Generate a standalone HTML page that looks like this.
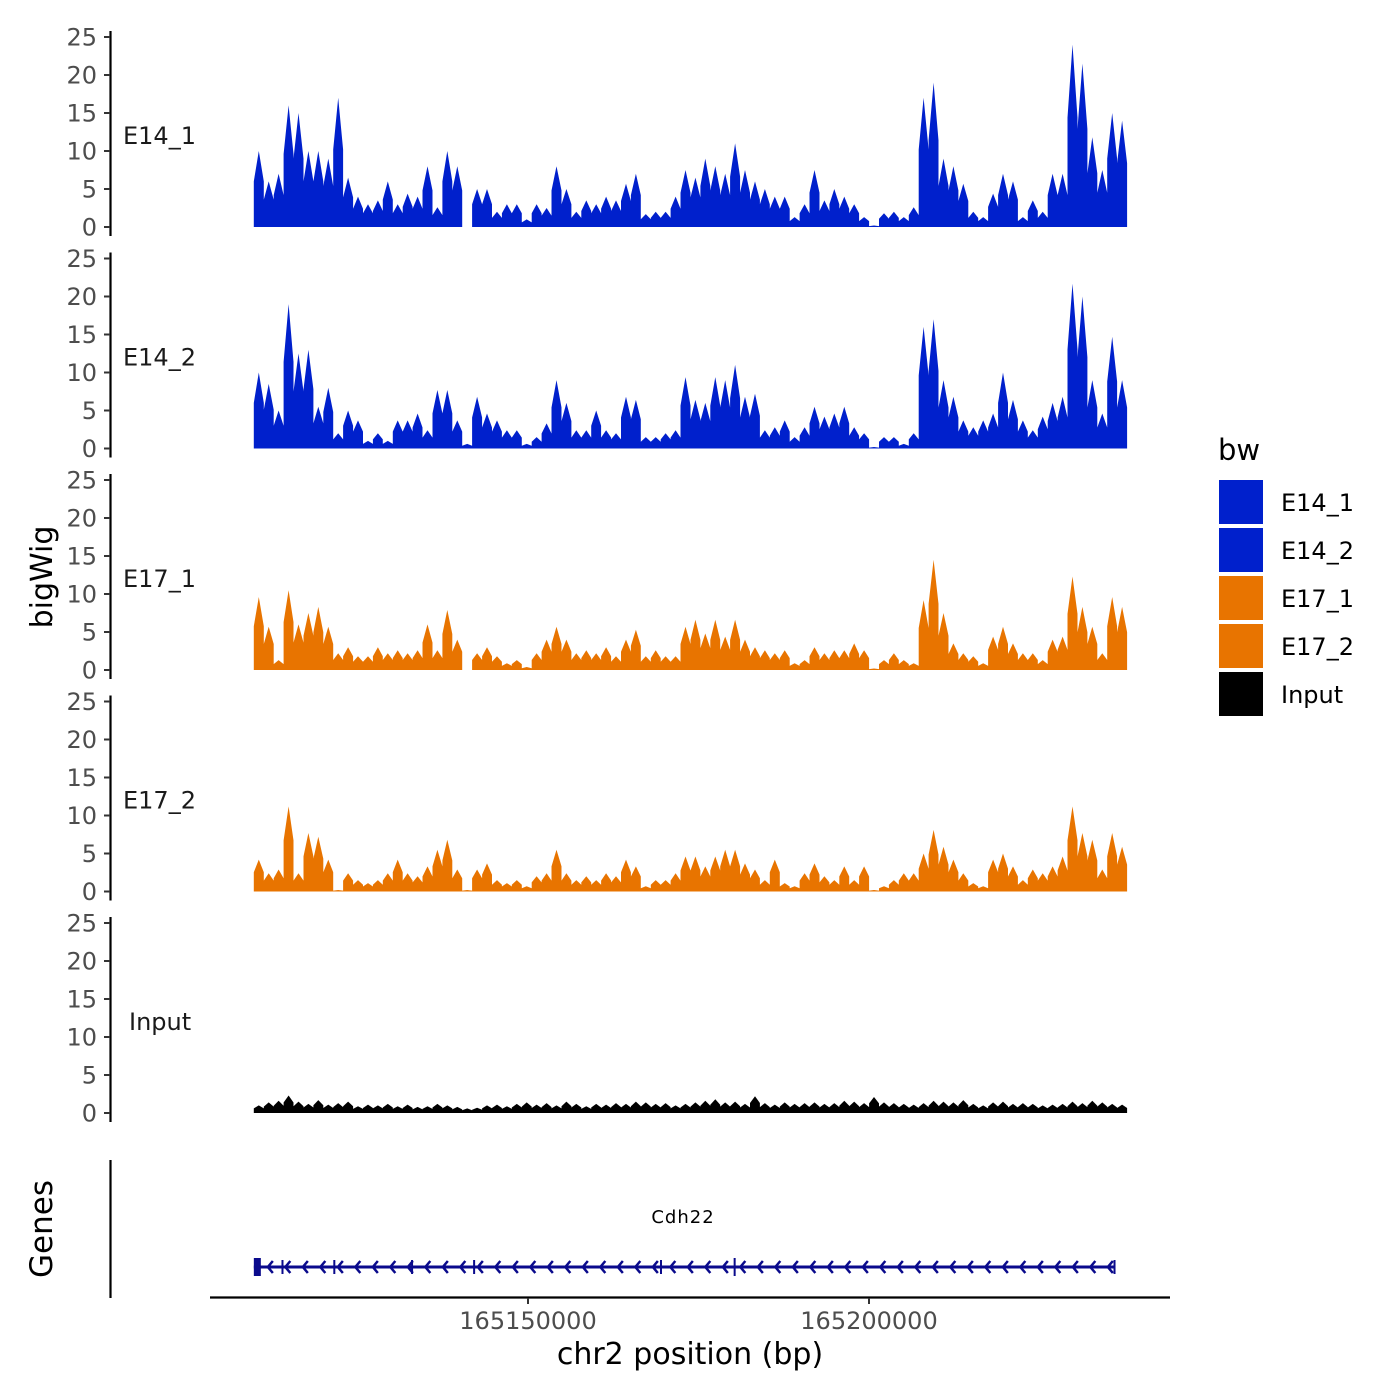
<!DOCTYPE html>
<html><head><meta charset="utf-8"><style>
html,body{margin:0;padding:0;background:#fff;}
svg{display:block;font-family:"DejaVu Sans","Liberation Sans",sans-serif;}
</style></head><body>
<svg id="chart" width="1400" height="1400" viewBox="0 0 1400 1400">
<rect x="0" y="0" width="1400" height="1400" fill="#fff"/>
<g id="tracks"></g>
<g id="genes"></g>
<g id="xaxis"></g>
<g id="legend"></g>
<text x="52" y="577" font-size="30" text-anchor="middle" transform="rotate(-90 52 577)" fill="#000">bigWig</text>
<text x="52" y="1229" font-size="31" text-anchor="middle" transform="rotate(-90 52 1229)" fill="#000">Genes</text>
<text x="690" y="1364" font-size="30" text-anchor="middle" fill="#000">chr2 position (bp)</text>
</svg>
<script>
const trackNames = ["E14_1","E14_2","E17_1","E17_2","Input"];
const trackColors = ["#0020CC","#0020CC","#E87400","#E87400","#000000"];
const binStart = 165109800;
const binSize = 1455;
const yTicks = [0,5,10,15,20,25];
const xTicks = [165150000,165200000];
const xTickLabels = ["165150000","165200000"];
const e14_1 = [10,6,7,16,15,10,10,9,17,6.5,4,3,3.5,6,3,4.4,4,8,2.6,10,8,0,5,5,2,3,3,1,3,2.5,8,5,2,3.5,3,4,3.5,5.7,7,1.7,2,2,4,7.5,6.5,
9,8,7,11,7.5,6,5,4,4,1.3,3,7.5,3.5,5,4,3,1.3,0.2,1.8,2,1.3,2.6,17,19,9,8,5.7,2,1.3,4.4,7,6,1.3,3.5,2,7,7,24,21.5,11.8,7.5,15,14];
const e14_2 = [10,8.5,5,19,12.5,13,5.5,8,2,5,3.7,1,2,1,3.7,3.7,4.6,2.4,7.7,7.7,3.7,0.6,6.8,4.6,3.7,2.4,2.4,0.6,1.5,3.3,9,6,2.4,2.4,5,2.4,2,6.8,6.4,1.5,1.5,2,2.4,9.4,6.4,
6,9.4,9,11,6.8,7.2,2.4,2.8,3.7,1.5,2.8,5.5,4.2,4.6,5.5,2.8,2,0.2,1.5,1.5,0.6,2,16,17,9,6.8,3.7,2.8,3.7,4.6,10,6.4,3.7,2.4,4.2,6,6.8,21.7,20,9,4.6,14.7,9];
const e17_1 = [9.6,5.7,1.3,10.5,6,7.5,8.3,5.7,2.2,3,1.8,1.8,3,2.2,2.6,2.2,2.6,6,2.6,7.9,4,0,2.2,3,1.8,0.9,1.3,0.4,2.2,4,5.7,4,2.2,2.6,2.2,3,1.8,4,5.3,1.8,2.6,1.8,1.8,5.7,6.6,
4.8,6.6,4.4,6.6,4,3,2.6,2.2,2.6,0.9,1.3,3,2.2,2.6,2.6,3.5,2.6,0.2,1.3,2.2,1.3,0.9,9.2,14.5,7.5,3.5,2.2,1.8,0.9,4.4,5.7,3.5,2.2,2.2,1.3,4,4.4,12.3,8.3,5.7,2.2,9.6,8.3];
const e17_2 = [4.2,2.4,2.9,11.2,2.4,7.7,7.2,4.2,0.2,2.4,1.5,1.1,1.5,2.4,4.2,2.4,2,3.3,5.5,6.8,2.9,0.2,2.9,3.7,1.5,1.1,1.5,0.7,2,2.4,5.5,2.4,1.5,2,1.5,2.4,2,4.2,3.3,0.7,1.5,1.5,2.4,4.6,4.6,
3.3,4.6,5.5,5.5,3.7,2.9,1.5,4.2,1.1,0.7,2.4,3.7,2,1.5,3.3,1.5,3.3,0.2,0.7,1.5,2.4,2.4,5,8.1,5.9,4.2,2.4,1.1,0.7,4.2,5,3.3,1.5,2.9,2.4,3.3,4.6,11.2,7.7,6.8,2.9,7.7,5.9];
const input = [1,1.4,1.6,2.3,1.5,1.2,1.7,1.1,1.3,1.5,0.9,1.1,1,1.2,0.9,1.1,0.8,0.9,1.2,1,0.8,0.6,0.7,1,1.1,0.9,1.2,1.4,1.1,1.3,1,1.5,1.2,0.9,1.2,1.1,1.3,1.2,1.5,1.4,1.2,1.3,1,1.2,1.4,
1.6,1.8,1.4,1.5,1.2,2.2,1.3,1.1,1.4,1.2,1.3,1.4,1.2,1.3,1.6,1.5,1.3,2.1,1.4,1.3,1.2,1.1,1.3,1.6,1.5,1.4,1.7,1.2,1,1.4,1.5,1.2,1.3,1.2,1,1.1,1.2,1.5,1.3,1.6,1.4,1.2,1.1];
const trackData = [e14_1,e14_2,e17_1,e17_2,input];

const NS="http://www.w3.org/2000/svg";
function xScale(bp){ return 528 + (bp-165150000)*341/50000; }
const panelZero = [227,448.5,670,891.5,1113];
function yScale(panel,v){ return panelZero[panel] - v*7.6; }
function mk(tag,attrs,parent){ const e=document.createElementNS(NS,tag); for(const k in attrs) e.setAttribute(k,attrs[k]); parent.appendChild(e); return e; }

const tracksG=document.getElementById('tracks');
trackData.forEach((vals,p)=>{
  const g=mk('g',{},tracksG);
  
  
  const z=panelZero[p];
  const ax=mk('line',{x1:110.5,x2:110.5,y1:yScale(p,25)-6,y2:z+9,stroke:'#000','stroke-width':2.2},g);
  
  
  yTicks.forEach(t=>{
    const y=yScale(p,t);
    const tk=mk('line',{x1:104,x2:110,y1:y,y2:y,stroke:'#333','stroke-width':2},g);
    
    
    const tl=mk('text',{x:97,y:y+8.5,'font-size':24,'text-anchor':'end',fill:'#4d4d4d'},g);
    tl.textContent=String(t);
    
    
  });
  const lab=mk('text',{x:trackNames[p]==='Input'?129:123,y:yScale(p,12)+8,'font-size':24,fill:'#1a1a1a'},g);
  lab.textContent=trackNames[p];
  
  
  let d='M'+xScale(binStart).toFixed(1)+' '+z;
  vals.forEach((v,i)=>{
    const x0=xScale(binStart+i*binSize), x1=xScale(binStart+(i+1)*binSize), y=yScale(p,v);
    const xm=(x0+x1)/2;
    d+=' L'+x0.toFixed(1)+' '+yScale(p,v*0.6).toFixed(1)+' L'+xm.toFixed(1)+' '+y.toFixed(1)+' L'+x1.toFixed(1)+' '+yScale(p,v*0.6).toFixed(1);
  });
  d+=' L'+xScale(binStart+vals.length*binSize).toFixed(1)+' '+z+' Z';
  const a=mk('path',{d:d,fill:trackColors[p]},g);
  
  
});

// gene track
const geneStart=165109800, geneEnd=165236000;
const exons=[165109800,165114000,165121600,165133000,165142100,165169500,165180300,165236000];
const gG=document.getElementById('genes');
const gl=mk('line',{x1:110.5,x2:110.5,y1:1160,y2:1298,stroke:'#000','stroke-width':2.2},gG);


const gy=1267;
const gline=mk('line',{x1:xScale(geneStart),x2:xScale(geneEnd),y1:gy,y2:gy,stroke:'#0a0a8c','stroke-width':3},gG);


for(let x=xScale(geneStart)+14;x<xScale(geneEnd)-4;x+=17.5){
  const ch=mk('path',{d:`M${x+5} ${gy-6} L${x} ${gy} L${x+5} ${gy+6}`,fill:'none',stroke:'#0a0a8c','stroke-width':2.5},gG);
  
  
}
exons.forEach((e,i)=>{
  const x=xScale(e);
  const w=(i===0)?7:2;
  const h=(i===0)?18:(i===6?18:14);
  const r=mk('rect',{x:i===0?x:x-1,y:gy-h/2,width:w,height:h,fill:'#0a0a8c'},gG);
  
  
});
const gt=mk('text',{x:683,y:1223,'font-size':18,'text-anchor':'middle',fill:'#000','letter-spacing':'1'},gG);
gt.textContent='Cdh22';



// x axis
const xG=document.getElementById('xaxis');
const xl=mk('line',{x1:210,x2:1170,y1:1297.5,y2:1297.5,stroke:'#000','stroke-width':2.2},xG);


xTicks.forEach((t,i)=>{
  const x=xScale(t);
  const tk=mk('line',{x1:x,x2:x,y1:1298,y2:1304,stroke:'#333','stroke-width':2},xG);
  
  
  const tl=mk('text',{x:x,y:1329,'font-size':24,'text-anchor':'middle',fill:'#4d4d4d'},xG);
  tl.textContent=xTickLabels[i];
  
  
});

// legend
const lG=document.getElementById('legend');
const lt=mk('text',{x:1218,y:460,'font-size':29,fill:'#000'},lG);
lt.textContent='bw';


trackNames.forEach((n,i)=>{
  const y=480+i*48;
  const k=mk('rect',{x:1219,y:y,width:44,height:44,fill:trackColors[i]},lG);
  
  
  const t=mk('text',{x:1281,y:y+31,'font-size':24,fill:'#000'},lG);
  t.textContent=n;
  
  
});
</script>
</body></html>
